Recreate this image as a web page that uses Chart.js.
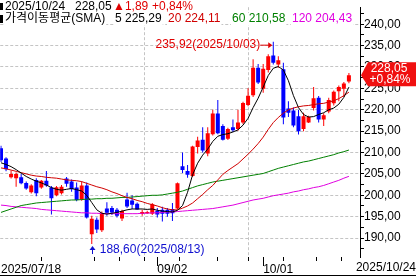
<!DOCTYPE html>
<html>
<head>
<meta charset="utf-8">
<script src="https://cdn.jsdelivr.net/npm/chart.js@4"></script>
<style>
  html, body { margin: 0; padding: 0; background: #fff; }
  #wrap { width: 416px; height: 277px; }
</style>
</head>
<body>
<div id="wrap"><canvas id="chart" width="416" height="277"></canvas></div>
<script>
// trading days 2025/07/18 .. 2025/10/24
const dates = [
  '07/18','07/21','07/22','07/23','07/24','07/25','07/28','07/29','07/30','07/31',
  '08/01','08/04','08/05','08/06','08/07','08/08','08/11','08/12','08/13','08/14',
  '08/15','08/18','08/19','08/20','08/21','08/22','08/25','08/26','08/27','08/28',
  '08/29','09/02','09/03','09/04','09/05','09/08','09/09','09/10','09/11','09/12',
  '09/15','09/16','09/17','09/18','09/19','09/22','09/23','09/24','09/25','09/26',
  '09/29','09/30','10/01','10/02','10/03','10/06','10/07','10/08','10/09','10/10',
  '10/13','10/14','10/15','10/16','10/17','10/20','10/21','10/22','10/23','10/24'
];

const openPrices = [
  211.0,208.6,204.2,204.0,204.2,202.9,200.7,203.6,201.8,203.4,
  201.8,200.0,200.5,203.9,203.2,201.8,199.0,202.3,190.9,194.3,
  191.8,196.9,197.0,196.6,194.6,199.0,198.8,198.0,195.6,195.8,
  195.7,196.4,196.6,196.6,196.8,196.9,206.8,205.7,204.5,211.3,
  213.0,209.8,214.3,219.1,216.2,213.2,215.9,215.5,217.0,221.1,
  223.4,229.8,224.9,229.3,232.7,230.6,229.5,220.3,219.8,218.5,
  215.5,217.0,220.4,222.8,217.7,219.6,221.5,224.3,224.9,226.6
];
const highPrices = [
  211.6,208.9,205.8,205.3,205.0,203.2,202.6,204.0,203.6,205.7,
  202.2,202.2,202.4,204.3,203.7,203.0,203.2,203.0,195.2,194.8,
  196.2,198.4,197.5,197.0,196.6,200.6,200.0,198.3,196.6,196.4,
  198.2,197.0,197.3,197.0,198.2,203.0,210.0,207.1,211.6,213.7,
  215.9,215.9,220.0,222.3,216.6,215.8,217.7,220.0,221.9,225.0,
  231.8,230.7,230.7,233.0,235.92,232.5,231.0,222.0,220.5,220.0,
  219.3,218.6,225.3,223.2,219.2,222.8,224.5,225.7,226.5,228.6
];
const lowPrices = [
  207.8,205.6,203.9,202.0,202.6,201.3,200.4,199.8,201.5,202.0,
  195.5,199.8,200.2,202.0,200.8,198.6,198.7,194.6,188.6,191.2,
  191.4,195.2,195.4,194.8,194.0,197.0,196.8,196.6,195.2,195.6,
  195.4,194.8,193.9,195.0,194.0,196.7,205.2,204.1,204.3,209.8,
  210.0,209.1,214.0,214.3,212.8,212.9,214.8,215.1,216.6,220.8,
  223.0,226.0,224.0,228.7,230.6,229.8,216.6,218.3,215.9,214.2,
  215.0,216.9,219.8,217.0,216.2,219.2,221.0,222.0,223.0,226.2
];
const closePrices = [
  208.2,206.1,205.0,205.0,202.8,201.6,202.3,200.5,203.4,202.3,
  199.3,201.9,202.0,202.7,201.4,198.9,202.3,194.8,194.5,192.0,
  195.8,195.9,196.0,195.2,196.3,197.4,197.8,196.7,196.1,196.1,
  197.9,195.5,195.7,195.7,195.8,202.8,205.9,204.8,211.4,212.8,
  210.5,214.5,219.1,214.5,213.0,215.5,215.2,217.0,221.6,223.3,
  229.8,226.4,229.6,232.5,231.0,231.6,218.2,219.3,216.3,215.0,
  218.5,218.3,222.7,217.7,218.7,222.3,224.2,225.3,226.16,228.05
];

const ma5 = [
  207.6,207.2,206.7,206.0,205.2,204.4,203.8,203.3,202.9,202.4,
  201.8,201.4,201.2,201.4,201.6,201.3,201.0,200.0,198.3,196.6,
  195.8,195.6,195.8,196.0,196.3,196.6,196.8,196.8,196.8,196.7,
  196.8,196.5,196.3,196.2,196.1,196.5,197.6,200.7,204.8,207.5,
  209.4,210.8,212.6,213.8,214.2,214.4,214.8,215.3,216.4,218.0,
  220.5,222.7,225.3,228.0,229.7,230.1,229.3,226.8,223.3,220.5,
  218.9,218.3,218.4,218.9,219.3,220.0,220.4,221.3,222.9,225.29
];
const ma20 = [
  206.4,206.2,205.9,205.6,205.3,205.0,204.7,204.5,204.4,204.2,
  204.1,204.0,203.8,203.6,203.5,203.4,203.2,202.8,202.4,202.0,
  201.7,201.3,200.8,200.4,199.9,199.5,199.2,198.8,198.5,198.1,
  197.8,197.5,197.1,196.8,196.6,196.6,197.0,197.5,198.2,199.2,
  200.2,201.3,202.3,203.6,204.9,205.8,206.6,207.4,208.5,209.6,
  210.8,212.1,213.6,215.4,217.0,218.2,219.2,220.0,220.4,220.7,
  220.9,221.0,221.2,221.4,221.5,221.8,222.1,222.6,223.3,224.11
];
const ma60 = [
  196.0,196.4,196.8,197.2,197.6,197.8,198.0,198.2,198.3,198.4,
  198.5,198.6,198.7,198.8,198.9,198.9,199.0,199.1,199.1,199.2,
  199.2,199.3,199.3,199.4,199.5,199.5,199.6,199.7,199.8,199.9,
  200.0,200.0,200.1,200.3,200.5,200.7,201.0,201.4,201.8,202.2,
  202.5,202.8,203.1,203.3,203.5,203.7,203.9,204.1,204.3,204.5,
  204.7,204.9,205.1,205.5,205.9,206.3,206.6,206.9,207.2,207.5,
  207.8,208.0,208.3,208.6,208.9,209.2,209.5,209.9,210.2,210.58
];
const ma120 = [
  197.7,197.6,197.4,197.3,197.2,197.1,197.0,196.9,196.7,196.6,
  196.5,196.4,196.3,196.2,196.1,196.0,195.9,195.9,195.8,195.8,
  195.7,195.7,195.7,195.7,195.7,195.7,195.7,195.7,195.8,195.8,
  195.9,195.9,196.0,196.1,196.1,196.2,196.3,196.4,196.5,196.6,
  196.7,196.8,196.9,197.1,197.3,197.5,197.7,198.0,198.3,198.6,
  198.9,199.1,199.3,199.6,199.9,200.1,200.3,200.5,200.8,201.0,
  201.3,201.5,201.8,202.0,202.3,202.7,203.1,203.5,204.0,204.43
];

// axis ticks
const priceTicks = [187.5,190,192.5,195,197.5,200,202.5,205,207.5,210,212.5,215,
                    217.5,220,222.5,225,227.5,230,232.5,235,237.5,240,242.5];
const dateTickIdx = [0, 16, 21, 26, 31, 40, 46, 52, 60, 65];
const dateTickText = { 0: '2025/07/18', 31: '09/02', 52: '10/01' };
const majorDateIdx = [31, 52];

// header text rows: [text, x, color]
const headerRow1 = [
  ['2025/10/24', 5, '#000000'],
  ['228,05', 75, '#000000'],
  ['\u25B21,89', 113, '#E00000'],
  ['+0,84%', 152, '#E00000']
];
const headerRow2 = [
  ['가격이동평균(SMA)', 5, '#000000'],
  ['5 225,29', 115, '#000000'],
  ['20 224,11', 168, '#D00000'],
  ['60 210,58', 232, '#008000'],
  ['120 204,43', 292, '#E000E0']
];

const UP = '#FF0000', DOWN = '#0000FF', GRID = '#C4C4C4';
const FONT = '12px "Liberation Sans", "Noto Sans CJK KR", sans-serif';

const candleColors = closePrices.map((c, i) => c >= openPrices[i] ? UP : DOWN);
const xy = arr => arr.map((v, i) => ({ x: i, y: v }));

const overlay = {
  id: 'overlay',
  afterDraw(chart) {
    const { ctx, scales: { x, y } } = chart;
    ctx.save();
    ctx.font = FONT;
    ctx.textBaseline = 'middle';

    const put = (txt, px, py, color, align) => {
      ctx.textAlign = align || 'left';
      const w = ctx.measureText(txt).width;
      const lx = align === 'right' ? px - w : px;
      ctx.fillStyle = '#fff';
      ctx.fillRect(lx - 1, py - 6, w + 2, 12);
      ctx.fillStyle = color;
      ctx.fillText(txt, px, py);
    };

    // header
    headerRow1.forEach(r => put(r[0], r[1], 7, r[2]));
    headerRow2.forEach(r => put(r[0], r[1], 19, r[2]));
    ctx.fillStyle = '#000';
    ctx.fillRect(0, 3, 3, 7);
    ctx.fillRect(0, 15, 3, 8);

    // high annotation
    const hi = 54, hx = x.getPixelForValue(hi), hy = y.getPixelForValue(highPrices[hi]) + 3;
    ctx.strokeStyle = '#E00000'; ctx.fillStyle = '#E00000'; ctx.lineWidth = 1;
    ctx.beginPath(); ctx.moveTo(hx - 13, hy + 0.5); ctx.lineTo(hx - 2, hy + 0.5); ctx.stroke();
    ctx.beginPath(); ctx.moveTo(hx - 1, hy + 0.5); ctx.lineTo(hx - 5, hy - 2.5); ctx.lineTo(hx - 5, hy + 3.5); ctx.fill();
    ctx.textAlign = 'right';
    ctx.fillText('235,92(2025/10/03)', hx - 13, hy);

    // low annotation
    const lo = 18, lx = x.getPixelForValue(lo), ly = y.getPixelForValue(lowPrices[lo]) + 2;
    ctx.strokeStyle = '#1010D0'; ctx.fillStyle = '#1010D0';
    ctx.beginPath(); ctx.moveTo(Math.round(lx) + 0.5, ly + 2); ctx.lineTo(Math.round(lx) + 0.5, ly + 8); ctx.stroke();
    ctx.beginPath(); ctx.moveTo(Math.round(lx) + 0.5, ly); ctx.lineTo(Math.round(lx) - 2.5, ly + 4); ctx.lineTo(Math.round(lx) + 3.5, ly + 4); ctx.fill();
    ctx.textAlign = 'left';
    ctx.fillText('188,60(2025/08/13)', lx + 8, ly + 4);

    // current price badge
    const py = y.getPixelForValue(closePrices[closePrices.length - 1]);
    const bx = x.right + 1;
    ctx.fillStyle = '#F01010';
    ctx.beginPath();
    ctx.moveTo(bx, py);
    ctx.lineTo(bx + 7, py - 13);
    ctx.lineTo(416, py - 13);
    ctx.lineTo(416, py + 11);
    ctx.lineTo(bx + 7, py + 11);
    ctx.closePath();
    ctx.fill();
    ctx.fillStyle = '#fff';
    ctx.textAlign = 'center';
    ctx.fillText('228,05', 389, py - 7);
    ctx.fillText('+0,84%', 390, py + 4);

    // long ticks for month labels
    ctx.strokeStyle = '#000';
    majorDateIdx.forEach(i => {
      const px = Math.round(x.getPixelForValue(i)) + 0.5;
      ctx.beginPath(); ctx.moveTo(px, x.top); ctx.lineTo(px, x.top + 9); ctx.stroke();
    });

    // end date + bottom frame line
    ctx.fillStyle = '#000';
    ctx.textAlign = 'right';
    ctx.fillText('2025/10/24', 416, 268);
    ctx.beginPath(); ctx.moveTo(0, 275.5); ctx.lineTo(416, 275.5); ctx.stroke();
    ctx.restore();
  }
};

Chart.defaults.font.family = '"Liberation Sans", "Noto Sans CJK KR", sans-serif';
Chart.defaults.font.size = 12;
Chart.defaults.color = '#000';

new Chart(document.getElementById('chart'), {
  type: 'bar',
  data: {
    datasets: [
      { type: 'line', label: 'MA5', data: xy(ma5), borderColor: '#000000', borderWidth: 1, pointRadius: 0, tension: 0, order: 0 },
      { type: 'line', label: 'MA20', data: xy(ma20), borderColor: '#D00000', borderWidth: 1, pointRadius: 0, tension: 0, order: 0 },
      { type: 'line', label: 'MA60', data: xy(ma60), borderColor: '#008000', borderWidth: 1, pointRadius: 0, tension: 0, order: 0 },
      { type: 'line', label: 'MA120', data: xy(ma120), borderColor: '#E000E0', borderWidth: 1, pointRadius: 0, tension: 0, order: 0 },
      {
        label: 'body',
        data: dates.map((d, i) => ({ x: i, y: [openPrices[i], closePrices[i]] })),
        backgroundColor: candleColors, borderWidth: 0, barThickness: 4,
        grouped: false, inflateAmount: 0, minBarLength: 1, order: 1
      },
      {
        label: 'wick',
        data: dates.map((d, i) => ({ x: i, y: [lowPrices[i], highPrices[i]] })),
        backgroundColor: candleColors, borderWidth: 0, barThickness: 1,
        grouped: false, inflateAmount: 0, order: 2
      }
    ]
  },
  options: {
    responsive: false,
    devicePixelRatio: 1,
    animation: false,
    layout: { padding: 0 },
    plugins: { legend: { display: false }, tooltip: { enabled: false } },
    scales: {
      x: {
        type: 'linear', min: -0.15, max: 71.2, offset: false,
        afterFit: s => { s.height = 20; },
        afterBuildTicks: s => { s.ticks = dateTickIdx.map(v => ({ value: v })); },
        grid: {
          color: c => (c.tick && majorDateIdx.includes(c.tick.value)) ? GRID : 'rgba(0,0,0,0)',
          tickColor: '#000', tickLength: 4, lineWidth: 1
        },
        border: { display: false, dash: [3, 2] },
        ticks: {
          autoSkip: false, maxRotation: 0, minRotation: 0, align: 'start', padding: 1,
          callback: v => dateTickText[v] || ''
        }
      },
      y: {
        position: 'right', min: 185.57, max: 243.98,
        afterFit: s => { s.width = 56; },
        afterBuildTicks: s => { s.ticks = priceTicks.map(v => ({ value: v })); },
        grid: {
          color: c => (c.tick && c.tick.value % 5 === 0) ? GRID : 'rgba(0,0,0,0)',
          tickColor: '#000', tickLength: 4, lineWidth: 1
        },
        border: { display: true, color: '#000', width: 1, dash: [3, 2] },
        ticks: {
          autoSkip: false, padding: 0,
          callback: v => v % 5 === 0 ? v.toFixed(2).replace('.', ',') : ''
        }
      }
    }
  },
  plugins: [overlay]
});
</script>
</body>
</html>
